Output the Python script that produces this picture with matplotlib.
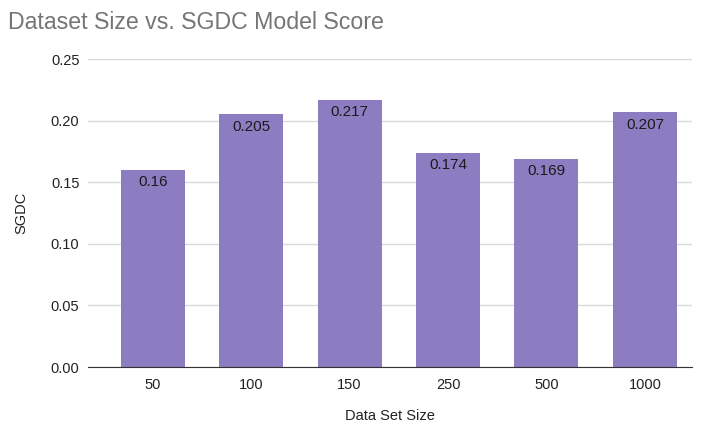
import matplotlib
matplotlib.use("Agg")
import matplotlib.pyplot as plt

sizes = ["50", "100", "150", "250", "500", "1000"]
scores = [0.16, 0.205, 0.217, 0.174, 0.169, 0.207]
labels = ["0.16", "0.205", "0.217", "0.174", "0.169", "0.207"]

plt.rcParams["font.family"] = ["Liberation Sans", "DejaVu Sans"]

fig = plt.figure(figsize=(7.02, 4.28), dpi=100)
ax = fig.add_axes([0.125, 0.1425, 0.861, 0.7195])

x = range(len(sizes))
bars = ax.bar(x, scores, width=0.65, color="#8c7dc2", zorder=3)
for b, lab in zip(bars, labels):
    ax.text(b.get_x() + b.get_width() / 2, b.get_height() - 0.0045, lab,
            ha="center", va="top", fontsize=11, color="#1a1a1a", zorder=4)

ax.set_ylim(0, 0.25)
ax.set_yticks([0, 0.05, 0.10, 0.15, 0.20, 0.25])
ax.set_yticklabels(["0.00", "0.05", "0.10", "0.15", "0.20", "0.25"])
ax.set_xlim(-0.66, 5.48)
ax.set_xticks(list(x))
ax.set_xticklabels(sizes)
ax.grid(axis="y", color="#d9d9d9", linewidth=1, zorder=0)
for s in ["top", "right", "left"]:
    ax.spines[s].set_visible(False)
ax.spines["bottom"].set_color("#333333")
ax.spines["bottom"].set_zorder(5)
ax.tick_params(length=0, labelsize=10.5, colors="#222222", pad=8)
ax.tick_params(axis="y", pad=6)

ax.set_xlabel("Data Set Size", fontsize=10.5, color="#222222", labelpad=12)
ax.set_ylabel("SGDC", fontsize=10.5, color="#222222", labelpad=16)
fig.text(0.011, 0.948, "Dataset Size vs. SGDC Model Score", fontsize=16.7,
         color="#757575", ha="left", va="center")

fig.savefig("out.png", dpi=100)
